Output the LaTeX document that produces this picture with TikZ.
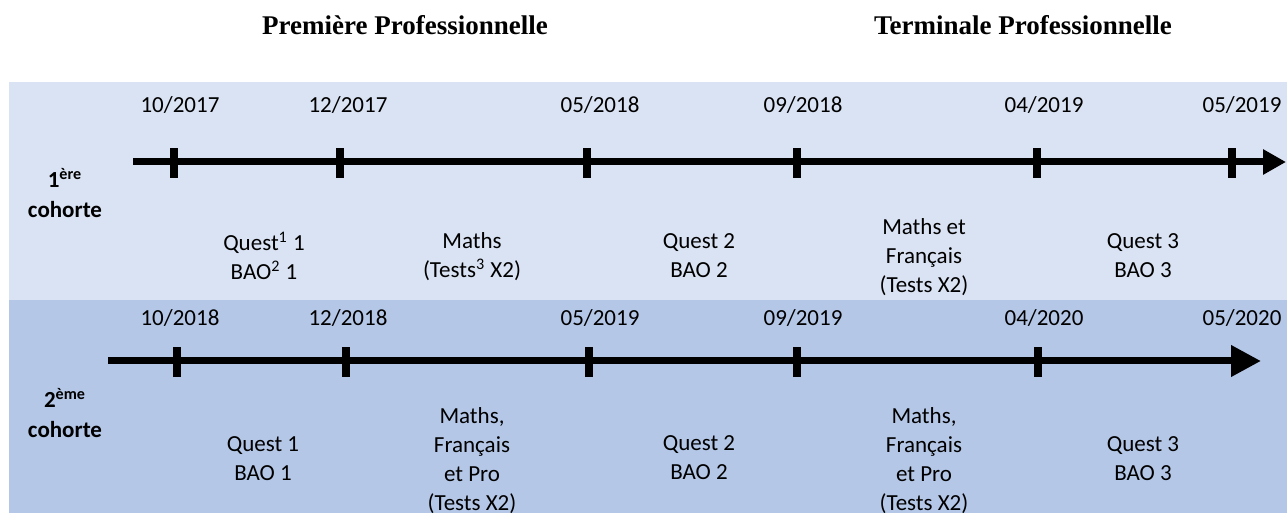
\documentclass[tikz,border=0pt]{standalone}
\usepackage{fontspec}
\setmainfont{Carlito}
\newfontfamily\titlefont{Liberation Serif}
\usetikzlibrary{arrows.meta}
\definecolor{bandlight}{HTML}{DAE3F3}
\definecolor{banddark}{HTML}{B4C7E7}
\begin{document}
\begin{tikzpicture}[x=0.5pt,y=-0.5pt,
    lbl/.style={align=center,inner sep=0pt,font=\fontsize{11.5}{14.5}\selectfont},
    date/.style={anchor=base,inner sep=0pt,font=\fontsize{11.5}{14.5}\selectfont},
    cohort/.style={align=center,inner sep=0pt,font=\fontsize{11.5}{15}\selectfont\bfseries},
    title/.style={anchor=base,inner sep=0pt,font=\fontsize{13.5}{16}\selectfont\titlefont\bfseries},
    tick/.style={fill=black,inner sep=0pt,minimum width=4pt,minimum height=15pt},
    axis/.style={line width=3.5pt}]
    \useasboundingbox (0,0) rectangle (1287,513);
    \fill[bandlight] (9,82) rectangle (1287,300);
    \fill[banddark] (9,300) rectangle (1287,513);

    \node[title] (premiere) at (405,35) {Première Professionnelle};
    \node[title] (terminale) at (1023,35) {Terminale Professionnelle};

    % first cohort
    \node[cohort] (cohA) at (65,193) {1\textsuperscript{ère}\\cohorte};
    \coordinate (startA) at (133,162);
    \coordinate (endA) at (1286,162);
    \draw[axis,-{Triangle[length=11.5pt,width=12pt]}] (startA) -- (endA);
    \node[tick] (tA1) at (174,163) {};
    \node[tick] (tA2) at (340,163) {};
    \node[tick] (tA3) at (587,163) {};
    \node[tick] (tA4) at (797,163) {};
    \node[tick] (tA5) at (1037,163) {};
    \node[tick] (tA6) at (1232,163) {};
    \node[date] (dA1) at (180,113) {10/2017};
    \node[date] (dA2) at (348,113) {12/2017};
    \node[date] (dA3) at (600,113) {05/2018};
    \node[date] (dA4) at (803,113) {09/2018};
    \node[date] (dA5) at (1044,113) {04/2019};
    \node[date] (dA6) at (1242,113) {05/2019};
    \node[lbl] (qA1) at (264,256) {Quest\textsuperscript{1} 1\\BAO\textsuperscript{2} 1};
    \node[lbl] (mA1) at (472,257) {Maths\\(Tests\textsuperscript{3} X2)};
    \node[lbl] (qA2) at (699,256) {Quest 2\\BAO 2};
    \node[lbl] (mA2) at (924,257) {Maths et\\Français\\(Tests X2)};
    \node[lbl] (qA3) at (1143,256) {Quest 3\\BAO 3};

    % second cohort
    \node[cohort] (cohB) at (65,413) {2\textsuperscript{ème}\\cohorte};
    \coordinate (startB) at (108,361);
    \coordinate (endB) at (1261,361);
    \draw[axis,-{Triangle[length=15pt,width=15pt]}] (startB) -- (endB);
    \node[tick] (tB1) at (177,362) {};
    \node[tick] (tB2) at (346,362) {};
    \node[tick] (tB3) at (589,362) {};
    \node[tick] (tB4) at (797,362) {};
    \node[tick] (tB5) at (1038,362) {};
    \node[date] (dB1) at (180,326) {10/2018};
    \node[date] (dB2) at (348,326) {12/2018};
    \node[date] (dB3) at (600,326) {05/2019};
    \node[date] (dB4) at (803,326) {09/2019};
    \node[date] (dB5) at (1044,326) {04/2020};
    \node[date] (dB6) at (1242,326) {05/2020};
    \node[lbl] (qB1) at (263,459) {Quest 1\\BAO 1};
    \node[lbl] (mB1) at (472,461) {Maths,\\Français\\et Pro\\(Tests X2)};
    \node[lbl] (qB2) at (699,458) {Quest 2\\BAO 2};
    \node[lbl] (mB2) at (924,461) {Maths,\\Français\\et Pro\\(Tests X2)};
    \node[lbl] (qB3) at (1143,459) {Quest 3\\BAO 3};

\end{tikzpicture}
\end{document}
